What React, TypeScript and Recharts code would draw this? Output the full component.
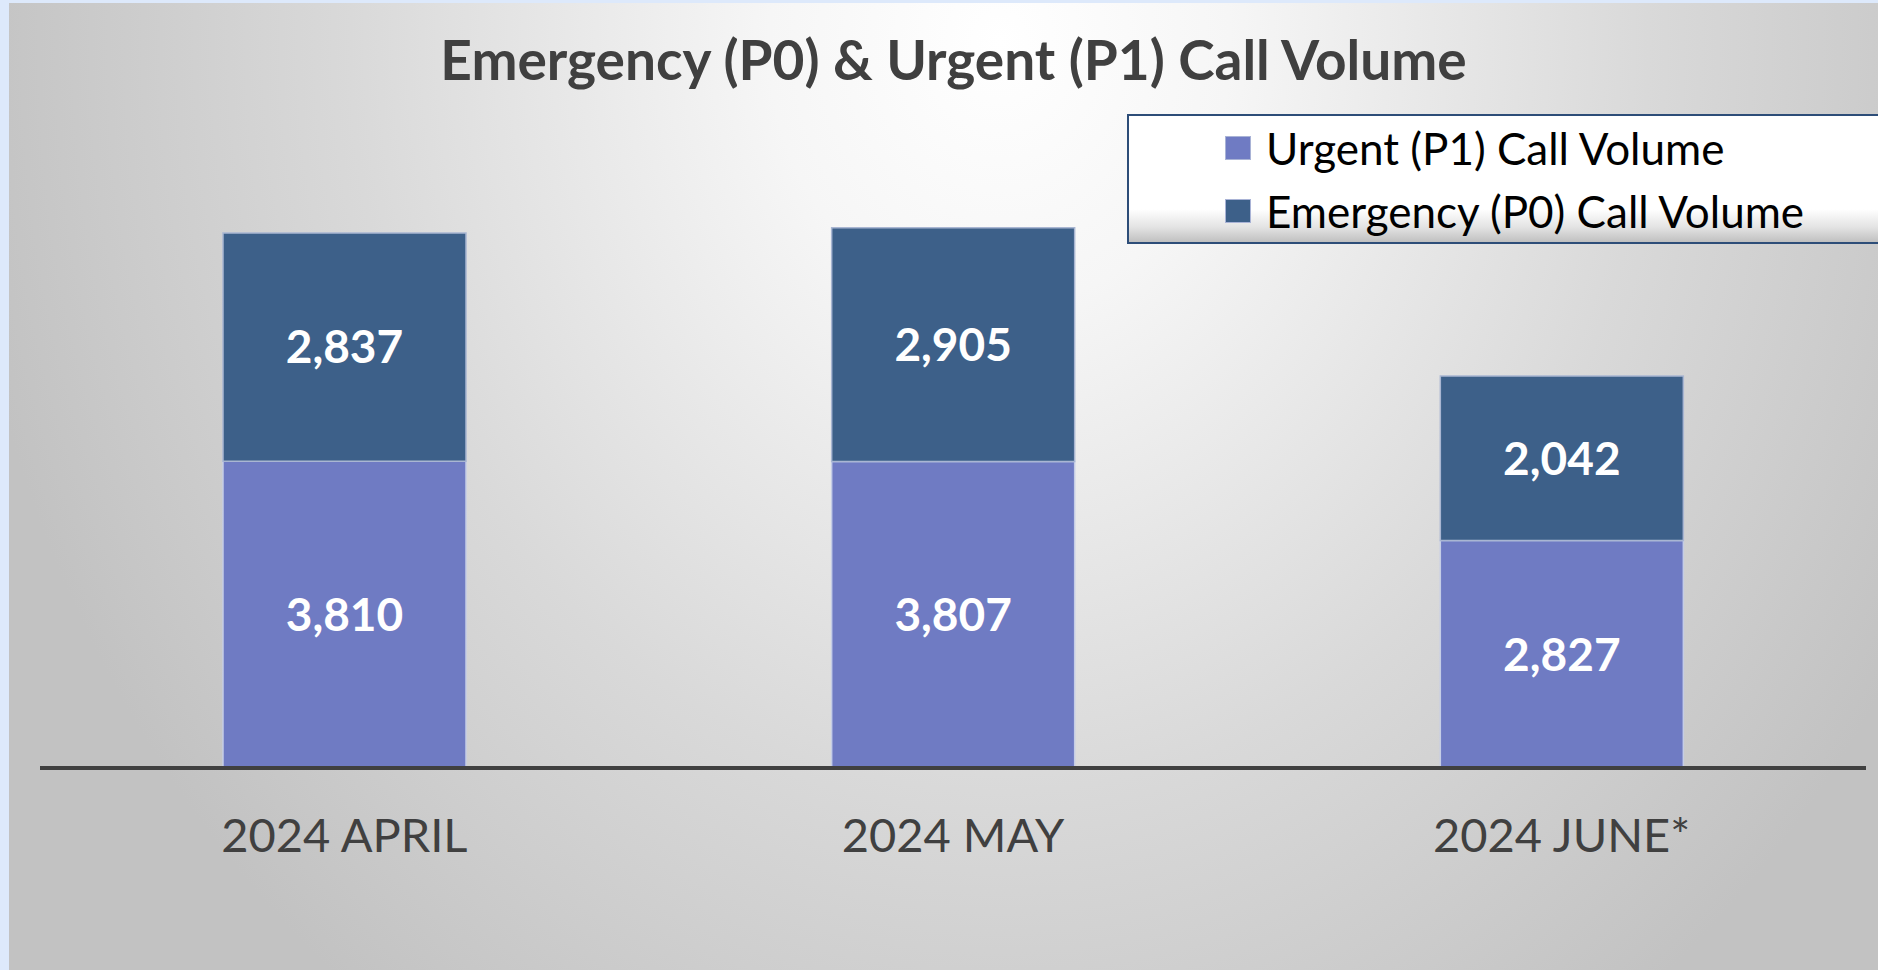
import React from "react";
import { BarChart, Bar, XAxis, YAxis, LabelList } from "recharts";

const months = ["2024 APRIL", "2024 MAY", "2024 JUNE*"];
const urgentP1 = [3810, 3807, 2827];
const emergencyP0 = [2837, 2905, 2042];

const TITLE = "Emergency (P0) & Urgent (P1) Call Volume";
const P1_NAME = "Urgent (P1) Call Volume";
const P0_NAME = "Emergency (P0) Call Volume";
const P1_COLOR = "#6f7bc3";
const P0_COLOR = "#3d6089";

const data = months.map((m, i) => ({ month: m, p1: urgentP1[i], p0: emergencyP0[i] }));

const FONT = "Lato, 'Open Sans', sans-serif";
const fmt = (v: any) => Number(v).toLocaleString("en-US");

const LegendBox = () => {
  const items = [
    { name: P1_NAME, color: P1_COLOR },
    { name: P0_NAME, color: P0_COLOR },
  ];
  return (
    <div
      style={{
        position: "absolute",
        left: 1118,
        top: 111,
        width: 770,
        height: 130,
        boxSizing: "border-box",
        border: "2px solid #2d4d78",
        background: "linear-gradient(to bottom, #ffffff 0%, #ffffff 74%, #e4e4e4 88%, #c0c0c0 100%)",
        paddingLeft: 96,
        paddingTop: 0,
        fontFamily: FONT,
        fontSize: 44,
        color: "#000",
      }}
    >
      {items.map((it) => (
        <div key={it.name} style={{ display: "flex", alignItems: "center", height: 63 }}>
          <span
            style={{
              display: "inline-block",
              width: 26,
              height: 24,
              background: it.color,
              marginRight: 15,
              border: "1px solid #a9b3d6",
              boxSizing: "border-box",
            }}
          />
          <span>{it.name}</span>
        </div>
      ))}
    </div>
  );
};

export default function App() {
  return (
    <div
      style={{
        position: "absolute",
        left: 0,
        top: 0,
        width: 1878,
        height: 970,
        background: "#dde9fb",
        overflow: "hidden",
      }}
    >
      <div
        style={{
          position: "absolute",
          left: 9,
          top: 3,
          width: 1869,
          height: 967,
          overflow: "hidden",
          background:
            "radial-gradient(ellipse 56% 125% at 53% 4%, #ffffff 0%, #f6f6f6 22%, #d9d9d9 62%, #c2c2c2 100%)",
        }}
      >
        <BarChart
          width={1869}
          height={967}
          data={data}
          margin={{ top: 121, right: 12, bottom: 0, left: 31 }}
          barCategoryGap={0}
          style={{ position: "absolute", left: 0, top: 0 }}
        >
          <XAxis
            dataKey="month"
            height={202}
            tickLine={false}
            axisLine={{ stroke: "#404040", strokeWidth: 4 }}
            tickMargin={45}
            tick={{ fill: "#404040", fontFamily: FONT, fontSize: 47 }}
          />
          <YAxis hide domain={[0, 8000]} />
          <Bar
            dataKey="p1"
            name={P1_NAME}
            stackId="a"
            fill={P1_COLOR}
            stroke="#c5cde6"
            strokeWidth={1.5}
            barSize={243}
            isAnimationActive={false}
          >
            <LabelList
              dataKey="p1"
              position="center"
              formatter={fmt}
              fill="#ffffff"
              style={{ fontFamily: FONT, fontWeight: 700, fontSize: 46 }}
            />
          </Bar>
          <Bar
            dataKey="p0"
            name={P0_NAME}
            stackId="a"
            fill={P0_COLOR}
            stroke="#a9b6d2"
            strokeWidth={1.5}
            barSize={243}
            isAnimationActive={false}
          >
            <LabelList
              dataKey="p0"
              position="center"
              formatter={fmt}
              fill="#ffffff"
              style={{ fontFamily: FONT, fontWeight: 700, fontSize: 46 }}
            />
          </Bar>
        </BarChart>
        <div
          style={{
            position: "absolute",
            left: 0,
            width: 1869,
            top: 26,
            textAlign: "center",
            fontFamily: FONT,
            fontWeight: 700,
            fontSize: 55,
            lineHeight: "60px",
            color: "#404040",
            transform: "translateX(10px)",
            whiteSpace: "nowrap",
          }}
        >
          {TITLE}
        </div>
        <LegendBox />
      </div>
    </div>
  );
}
